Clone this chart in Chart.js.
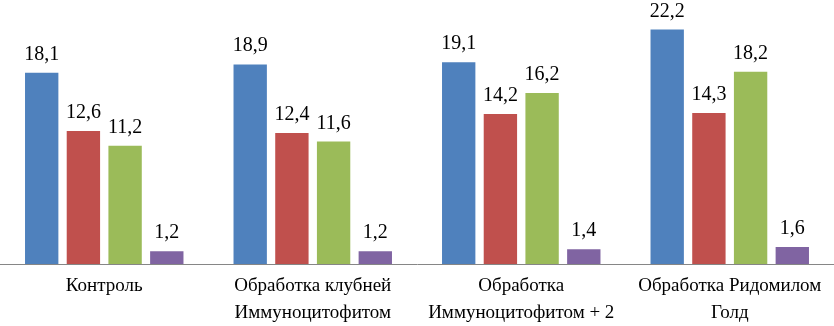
<!DOCTYPE html>
<html>
<head>
<meta charset="utf-8">
<script src="https://cdn.jsdelivr.net/npm/chart.js@4"></script>
<style>
  html, body { margin: 0; padding: 0; background: #fff; }
  #wrap { width: 834px; height: 326px; }
</style>
</head>
<body>
<div id="wrap"><canvas id="chart"></canvas></div>
<script>
const categories = [
    'Контроль',
    ['Обработка клубней', 'Иммуноцитофитом'],
    ['Обработка', 'Иммуноцитофитом + 2'],
    ['Обработка Ридомилом', 'Голд']
];
const seriesA = [18.1, 18.9, 19.1, 22.2];
const seriesB = [12.6, 12.4, 14.2, 14.3];
const seriesC = [11.2, 11.6, 16.2, 18.2];
const seriesD = [1.2, 1.2, 1.4, 1.6];

const colors = ['#4F81BD', '#C0504D', '#9BBB59', '#8064A2'];
const fontFamily = 'Liberation Serif';
Chart.defaults.font.family = fontFamily;

// value labels over each bar, comma as decimal mark
const valueLabels = {
    id: 'valueLabels',
    afterDraw(chart) {
        const ctx = chart.ctx;
        ctx.save();
        ctx.fillStyle = '#000';
        ctx.textAlign = 'left';
        ctx.textBaseline = 'alphabetic';
        chart.data.datasets.forEach((ds, i) => {
            chart.getDatasetMeta(i).data.forEach((bar, j) => {
                const txt = ds.data[j].toFixed(1).replace('.', ',');
                ctx.font = '20px Liberation Serif';
                const w = ctx.measureText(txt).width;
                ctx.fillText(txt, bar.x - w / 2, bar.y - 13);
            });
        });
        ctx.restore();
    }
};

const makeSet = (data, i) => ({
    label: 'Ряд ' + (i + 1),
    data: data,
    backgroundColor: colors[i],
    borderWidth: 0,
    barPercentage: 0.8,
    categoryPercentage: 0.8
});

new Chart(document.getElementById('chart'), {
    type: 'bar',
    data: {
        labels: categories,
        datasets: [seriesA, seriesB, seriesC, seriesD].map(makeSet)
    },
    options: {
        responsive: true,
        maintainAspectRatio: false,
        animation: false,
        layout: { padding: 0 },
        plugins: {
            legend: { display: false },
            tooltip: { enabled: false }
        },
        scales: {
            x: {
                grid: { display: false, drawTicks: false },
                border: { display: true, color: '#868686', width: 1 },
                ticks: {
                    color: '#000',
                    font: { family: fontFamily, size: 19, lineHeight: 1.4 },
                    padding: 9,
                    autoSkip: false,
                    maxRotation: 0
                },
                afterFit: (s) => { s.height = 62; }
            },
            y: {
                display: false,
                min: 0,
                max: 25
            }
        }
    },
    plugins: [valueLabels]
});
</script>
</body>
</html>
